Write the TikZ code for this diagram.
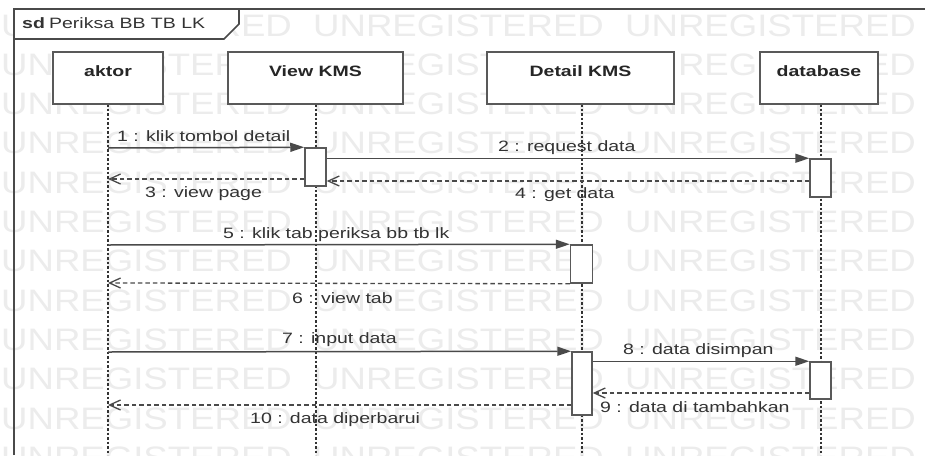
\documentclass[tikz,border=0pt]{standalone}
\usepackage{fontspec}
\setmainfont{Liberation Sans}
\usetikzlibrary{arrows.meta}
\definecolor{linec}{HTML}{4A4A4A}
\definecolor{boxc}{HTML}{595959}
\definecolor{txtc}{HTML}{333333}
\definecolor{wmc}{HTML}{ECECEC}
\newcommand{\hstr}[1]{\scalebox{1.3}[1]{#1}}
\tikzset{
  lbl/.style={inner sep=0pt, anchor=base west, text=txtc, font=\fontsize{15}{15}\selectfont},
  head/.style={draw=boxc, line width=1.8pt, fill=white, minimum height=52pt, inner sep=0pt},
  headtxt/.style={inner sep=0pt, anchor=base, text=black!85, font=\fontsize{15}{15}\selectfont\bfseries},
  act/.style={draw=boxc, line width=1.5pt, fill=white, minimum width=21pt, inner sep=0pt},
  lifeline/.style={draw=black!80, line width=1.6pt, dash pattern=on 2.5pt off 2pt},
  msg/.style={draw=linec, line width=1.5pt, -{Triangle[length=14pt,width=9pt]}},
  ret/.style={draw=linec, line width=1.3pt, dash pattern=on 4.5pt off 3pt, -{Straight Barb[length=11pt,width=10pt,line width=1.3pt]}},
  wm/.style={inner sep=0pt, anchor=base west, text=wmc, font=\fontsize{31}{31}\selectfont}
}
\begin{document}
\begin{tikzpicture}[x=1pt,y=-1pt]
\useasboundingbox (0,0) rectangle (925,455);
\fill[white] (0,0) rectangle (925,455);
% watermark
\foreach \k in {0,...,11}{
  \foreach \xx in {1,313,625}{
    \node[wm] (wm-\k-\xx) at (\xx,{36+39.3*\k}) {\scalebox{1.18}[1]{UNREGISTERED}};
  }
}
% frame
\draw[draw=linec, line width=1.6pt, fill=white] (14,39) -- (224,39) -- (239,24) -- (239,9) -- (14,9) -- cycle;
\draw[draw=linec, line width=1.8pt] (14,455) -- (14,9) -- (925,9);
\node[lbl] (title) at (22,28) {\hstr{\textbf{sd}} \hstr{Periksa BB TB LK}};
% lifeline coordinates
\coordinate (la) at (108,455);
\coordinate (lv) at (316,455);
\coordinate (ld) at (582,455);
\coordinate (lb) at (821,455);
% lifelines
\draw[lifeline] (108,104) -- (la);
\draw[lifeline] (316,104) -- (lv);
\draw[lifeline] (582,104) -- (ld);
\draw[lifeline] (821,104) -- (lb);
% headers
\node[head, minimum width=110pt] (aktor) at (108,78) {};
\node[head, minimum width=175pt] (view) at (315.5,78) {};
\node[head, minimum width=187pt] (detail) at (580.5,78) {};
\node[head, minimum width=118pt] (db) at (819,78) {};
\node[headtxt] (taktor) at (108,76) {\hstr{aktor}};
\node[headtxt] (tview) at (315.5,76) {\hstr{View KMS}};
\node[headtxt] (tdetail) at (580.5,76) {\hstr{Detail KMS}};
\node[headtxt] (tdb) at (819,76) {\hstr{database}};
% activations
\node[act, minimum height=38pt] (a1) at (315.5,167) {};
\node[act, minimum height=38pt] (d1) at (820.5,178) {};
\node[act, minimum height=38pt, minimum width=22pt] (b1) at (581.5,264) {};
\node[act, minimum height=63pt, minimum width=20pt] (b2) at (582,383.5) {};
\node[act, minimum height=37pt] (d2) at (820.5,380.5) {};
% message endpoints on aktor lifeline
\coordinate (m1) at (108,148);
\coordinate (m3) at (108,179);
\coordinate (m5) at (108,245);
\coordinate (m6) at (108,283);
\coordinate (m7) at (108,352);
\coordinate (m10) at (108,405);
% messages
\draw[msg] (m1) -- (a1.north west);
\draw[msg] (a1.east |- d1.north) -- (d1.north west);
\draw[ret] (a1.west |- m3) -- (m3);
\draw[ret] (d1.west |- 0,181) -- (a1.east |- 0,181);
\draw[msg] (m5) -- (b1.north west);
\draw[ret] (b1.south west) -- (m6);
\draw[msg] (m7) -- (b2.north west);
\draw[msg] (b2.east |- d2.north) -- (d2.north west);
\draw[ret] (d2.west |- 0,393) -- (b2.east |- 0,393);
\draw[ret] (b2.west |- m10) -- (m10);
% labels
\node[lbl] (t1) at (117,141) {\hstr{1 : klik tombol detail}};
\node[lbl] (t2) at (498,151) {\hstr{2 : request data}};
\node[lbl] (t3) at (145,197) {\hstr{3 : view page}};
\node[lbl] (t4) at (515,198) {\hstr{4 : get data}};
\node[lbl] (t5) at (223,238) {\hstr{5 : klik tab periksa bb tb lk}};
\node[lbl] (t6) at (292,303) {\hstr{6 : view tab}};
\node[lbl] (t7) at (282,343) {\hstr{7 : input data}};
\node[lbl] (t8) at (623,354) {\hstr{8 : data disimpan}};
\node[lbl] (t9) at (600,412) {\hstr{9 : data di tambahkan}};
\node[lbl] (t10) at (250,423) {\hstr{10 : data diperbarui}};
\end{tikzpicture}
\end{document}
